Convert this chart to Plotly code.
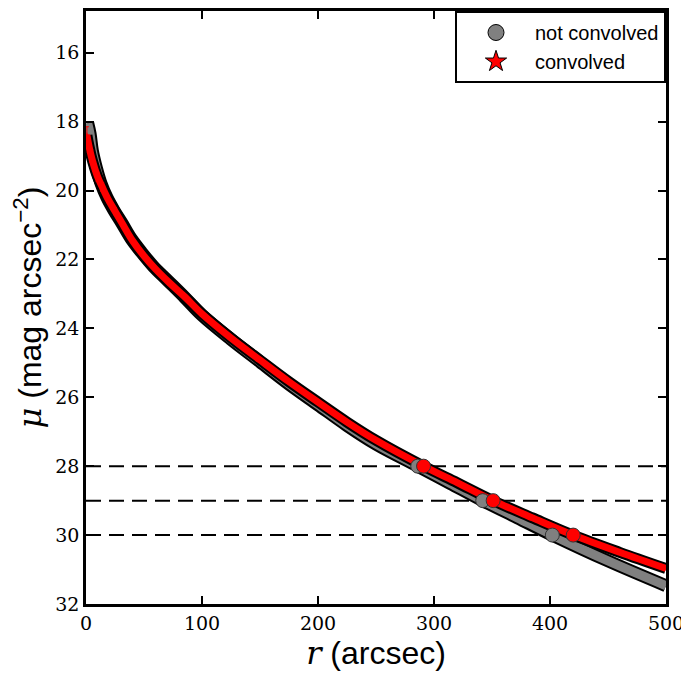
import plotly.graph_objects as go

# surface brightness profile, not convolved (grey band)
r_gray = [1.5, 3.5, 5.5, 9, 13, 18, 24, 31, 39, 48, 58, 70, 85, 100, 125,
          150, 175, 200, 225, 250, 286, 314, 342, 372, 402, 450, 500]
mu_gray = [18.05, 18.35, 18.85, 19.35, 19.8, 20.2, 20.57, 20.95, 21.4, 21.8,
           22.2, 22.6, 23.1, 23.62, 24.32, 24.97, 25.62, 26.22, 26.82, 27.36,
           28.0, 28.5, 29.0, 29.5, 30.0, 30.75, 31.47]

# convolved profile (red band) with its error bars
r_red = [0.8, 2.5, 4.5, 7, 10, 14, 19, 25, 32, 40, 50, 60, 72, 85, 100, 125,
         150, 175, 200, 225, 250, 291, 320, 351, 385, 420, 460, 500]
mu_red = [18.4, 18.7, 19.0, 19.3, 19.6, 19.9, 20.25, 20.6, 21.0, 21.45, 21.9,
          22.28, 22.68, 23.08, 23.58, 24.28, 24.92, 25.55, 26.14, 26.72,
          27.25, 28.0, 28.48, 29.0, 29.5, 30.0, 30.5, 30.97]
err_red = [0.25, 0.2, 0.18, 0.15, 0.13, 0.12, 0.1, 0.1, 0.08, 0.06, 0.05,
           0.04, 0.03, 0.02, 0.02, 0, 0, 0, 0, 0, 0, 0, 0, 0, 0, 0, 0, 0]

# surface brightness limits and where each profile crosses them
limits = [28, 29, 30]
r_cross_gray = [286, 342, 402]
r_cross_red = [291, 351, 420]

x_range = [0, 500]
x_ticks = [0, 100, 200, 300, 400, 500]
y_ticks = [16, 18, 20, 22, 24, 26, 28, 30, 32]

serif = "DejaVu Serif"
sans = "Liberation Sans"

fig = go.Figure()

for lim in limits:
    fig.add_trace(go.Scatter(
        x=x_range, y=[lim, lim], mode="lines",
        line=dict(color="black", width=2, dash="15px,8px"),
        showlegend=False, hoverinfo="skip"))

# grey band: black outline + grey fill
fig.add_trace(go.Scatter(x=r_gray, y=mu_gray, mode="lines",
                         line=dict(color="black", width=13, shape="spline"),
                         showlegend=False))
fig.add_trace(go.Scatter(x=r_gray, y=mu_gray, mode="lines",
                         line=dict(color="#808080", width=9, shape="spline"),
                         showlegend=False))

# red band
fig.add_trace(go.Scatter(x=r_red, y=mu_red, mode="lines",
                         line=dict(color="black", width=11, shape="spline"),
                         showlegend=False))
fig.add_trace(go.Scatter(x=r_red, y=mu_red, mode="lines",
                         line=dict(color="red", width=7, shape="spline"),
                         showlegend=False))
fig.add_trace(go.Scatter(x=r_red, y=mu_red, mode="markers",
                         marker=dict(symbol="star", size=5, color="red"),
                         error_y=dict(type="data", array=err_red,
                                      color="red", thickness=1, width=2),
                         showlegend=False))

# crossing points
fig.add_trace(go.Scatter(x=r_cross_gray, y=limits, mode="markers",
                         marker=dict(size=14, color="#808080",
                                     line=dict(color="#333333", width=1)),
                         showlegend=False))
fig.add_trace(go.Scatter(x=r_cross_red, y=limits, mode="markers",
                         marker=dict(size=14, color="red",
                                     line=dict(color="#333333", width=1)),
                         showlegend=False))

# legend entries
fig.add_trace(go.Scatter(x=[None], y=[None], mode="markers",
                         name="not convolved",
                         marker=dict(size=17, color="#808080",
                                     line=dict(color="black", width=1))))
fig.add_trace(go.Scatter(x=[None], y=[None], mode="markers",
                         name="convolved",
                         marker=dict(symbol="star", size=17, color="red",
                                     line=dict(color="black", width=1))))

axis_common = dict(
    showline=True, linecolor="black", linewidth=2.5, mirror="ticks",
    ticks="inside", ticklen=8, tickwidth=1.5, tickcolor="black",
    showgrid=False, zeroline=False,
    tickfont=dict(family=serif, size=19, color="black"),
)

# page is drawn with a small offset, so margins are trimmed to compensate
fig.update_layout(
    width=680, height=675,
    margin=dict(l=78, r=22, t=0, b=79),
    paper_bgcolor="white", plot_bgcolor="white",
    font=dict(family=sans),
    xaxis=dict(range=x_range, tickvals=x_ticks,
               title=dict(text="<i style='font-family:DejaVu Serif'>r</i> (arcsec)",
                          font=dict(family=sans, size=32, color="black"),
                          standoff=8),
               **axis_common),
    yaxis=dict(range=[32, 14.79], tickvals=y_ticks,
               title=dict(text="<i style='font-family:DejaVu Serif'>μ</i> (mag arcsec<sup>−2</sup>)",
                          font=dict(family=sans, size=32, color="black"),
                          standoff=10),
               **axis_common),
    legend=dict(x=1, y=1, xanchor="right", yanchor="top",
                bgcolor="white", bordercolor="black", borderwidth=2,
                font=dict(family=sans, size=20, color="black"),
                itemwidth=68),
)

fig.write_html("out.html")
